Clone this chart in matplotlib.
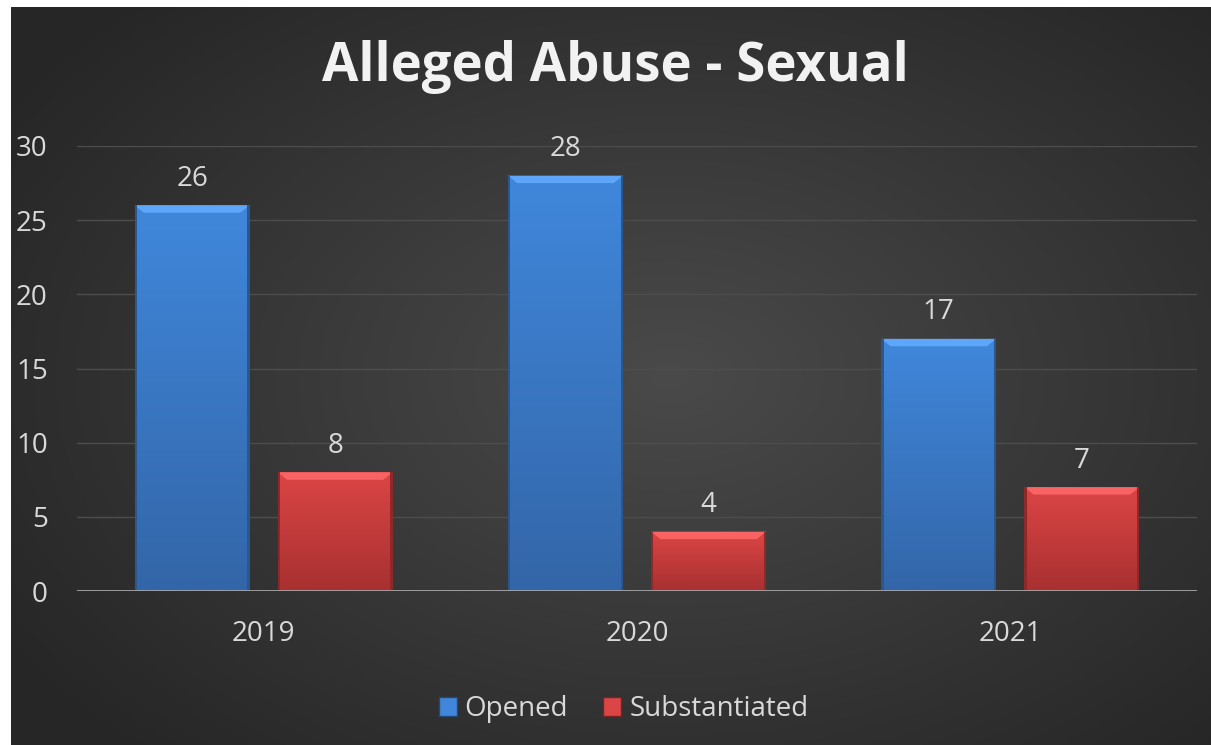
import numpy as np
import matplotlib
matplotlib.use('Agg')
import matplotlib.pyplot as plt
from matplotlib.patches import Patch

# chart data
years = ['2019', '2020', '2021']
opened = [26, 28, 17]
substantiated = [8, 4, 7]
series_names = ['Opened', 'Substantiated']
title = 'Alleged Abuse - Sexual'

plt.rcParams['font.family'] = ['Open Sans', 'DejaVu Sans']

W, H, DPI = 1211, 745, 100
fig = plt.figure(figsize=(W / DPI, H / DPI), dpi=DPI, facecolor='white')

# dark panel with a soft radial glow
bg = fig.add_axes([11 / W, 0, 1 - 11 / W, 1 - 7 / H])
bg.set_axis_off()
yy, xx = np.mgrid[0:1:300j, 0:1:480j]
r = np.sqrt(((xx - 0.55) / 0.75) ** 2 + ((yy - 0.5) / 0.8) ** 2)
shade = np.clip(0.29 - 0.16 * r, 0.15, 0.29)
bg.imshow(np.dstack([shade] * 3), extent=[0, 1, 0, 1], aspect='auto',
          interpolation='bilinear')
bg.set_xlim(0, 1)
bg.set_ylim(0, 1)

ax = fig.add_axes([77 / W, 1 - 591 / H, 1120 / W, 445 / H])
ax.set_facecolor('none')
for s in ax.spines.values():
    s.set_visible(False)

x = np.arange(len(years))
bw = 0.308
off = 0.1916

blue_top, blue_bot = np.array([0.25, 0.53, 0.86]), np.array([0.20, 0.40, 0.66])
red_top, red_bot = np.array([0.86, 0.27, 0.27]), np.array([0.66, 0.19, 0.19])


def gradient_bars(xs, vals, ctop, cbot):
    bars = ax.bar(xs, vals, bw, color=cbot, zorder=3, linewidth=0)
    for b in bars:
        bx, by = b.get_x(), b.get_y()
        bh, bwid = b.get_height(), b.get_width()
        t = np.linspace(0, 1, 64)[:, None]
        img = (cbot[None, None, :] * (1 - t[..., None]) + ctop[None, None, :] * t[..., None])
        img = np.repeat(img, 2, axis=1)
        im = ax.imshow(img, extent=[bx, bx + bwid, by, by + bh], origin='lower',
                       aspect='auto', zorder=3, interpolation='bilinear')
        im.set_clip_path(b)
        # bevel highlight at the top edge
        ax.fill([bx, bx + bwid, bx + bwid - 0.025, bx + 0.025],
                [bh, bh, bh - 0.5, bh - 0.5],
                color=np.minimum(ctop + 0.12, 1), zorder=4, linewidth=0)
        # slightly darker sides
        ax.fill([bx, bx + 0.006, bx + 0.006, bx], [0, 0, bh, bh],
                color=cbot * 0.85, zorder=4, linewidth=0)
        ax.fill([bx + bwid - 0.006, bx + bwid, bx + bwid, bx + bwid - 0.006], [0, 0, bh, bh],
                color=cbot * 0.85, zorder=4, linewidth=0)
        ax.text(bx + bwid / 2, bh + 0.85, f'{int(bh)}', ha='center', va='bottom',
                color='#d9d9d9', fontsize=20, zorder=5, clip_on=False)
    return bars


gradient_bars(x - off, opened, blue_top, blue_bot)
gradient_bars(x + off, substantiated, red_top, red_bot)

ax.set_xlim(-0.5, len(years) - 0.5)
ax.set_ylim(0, 30)
ax.set_yticks(range(0, 31, 5))
ax.grid(axis='y', color='#4d4d4d', linewidth=1, zorder=0)
ax.axhline(0, color='#a6a6a6', linewidth=2, zorder=6)
ax.set_xticks(x)
ax.set_xticklabels(years)
ax.tick_params(axis='both', length=0, colors='#d9d9d9', labelsize=20)
ax.tick_params(axis='x', pad=21)
ax.tick_params(axis='y', pad=21)

fig.text(0.5 + 10 / W, 1 - 67 / H, title, ha='center', va='center',
         fontsize=38, fontweight='bold', color='#f2f2f2')

handles = [Patch(facecolor=blue_top, edgecolor=blue_bot * 0.7),
           Patch(facecolor=red_top, edgecolor=red_bot * 0.7)]
fig.legend(handles, series_names, loc='center', bbox_to_anchor=(623.5 / W, 1 - 709 / H),
           ncol=2, frameon=False, fontsize=20, labelcolor='#d9d9d9',
           handlelength=0.65, handleheight=0.65, handletextpad=0.29, columnspacing=1.26)

fig.savefig('out.png', dpi=DPI, facecolor='white')
